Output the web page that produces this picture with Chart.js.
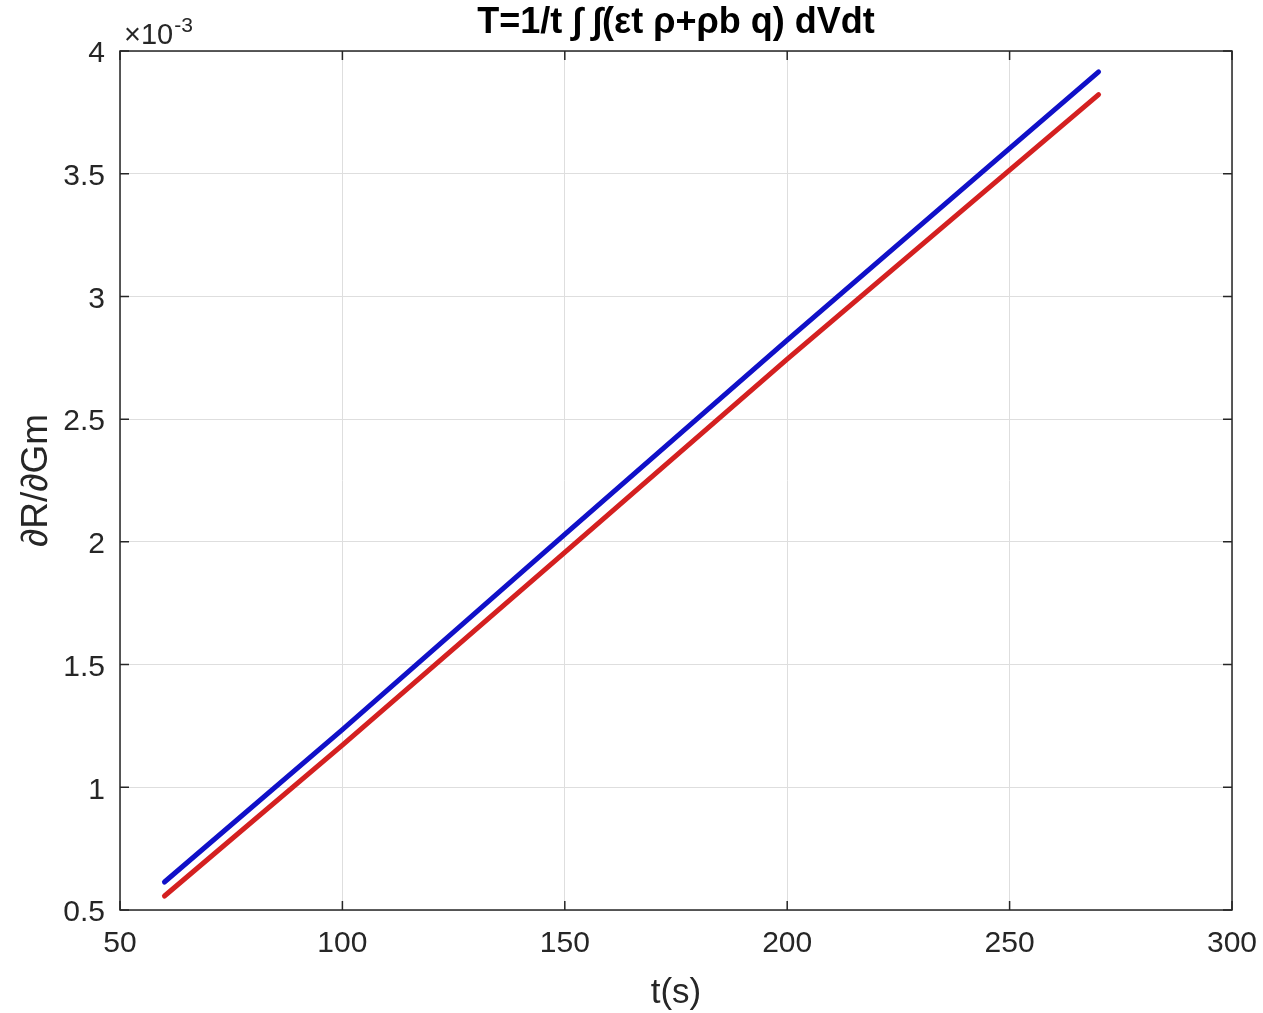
<!DOCTYPE html>
<html>
<head>
<meta charset="utf-8">
<script src="https://cdn.jsdelivr.net/npm/chart.js@4/dist/chart.umd.min.js"></script>
<style>
  html, body { margin: 0; padding: 0; background: #fff; }
  #wrap { width: 1263px; height: 1013px; }
</style>
</head>
<body>
<div id="wrap"><canvas id="c" width="1263" height="1013"></canvas></div>
<script>
// time axis (s)
const tValues = [60, 100, 150, 200, 250, 270];
// dR/dGm
const blueSeries = [0.000614, 0.001235, 0.002030, 0.002822, 0.003603, 0.003915];
const redSeries  = [0.000557, 0.001172, 0.001957, 0.002745, 0.003515, 0.003822];

const titleText = 'T=1/t \u222B \u222B(\u03B5t \u03C1+\u03C1b q) dVdt';
const xLabel = 't(s)';
const yLabel = '\u2202R/\u2202Gm';

const axisColor = '#262626';
const fontFamily = '"Liberation Sans", Arial, sans-serif';

function toPoints(xs, ys) {
  return xs.map((x, i) => ({ x: x, y: ys[i] }));
}

// box, inward ticks and texts drawn MATLAB-style
const matlabFrame = {
  id: 'matlabFrame',
  afterDraw(chart) {
    const ctx = chart.ctx;
    const a = chart.chartArea;
    const xs = chart.scales.x, ys = chart.scales.y;
    ctx.save();
    ctx.strokeStyle = axisColor;
    ctx.lineWidth = 1.5;
    ctx.strokeRect(a.left, a.top, a.right - a.left, a.bottom - a.top);
    ctx.beginPath();
    xs.ticks.forEach(t => {
      const px = xs.getPixelForValue(t.value);
      ctx.moveTo(px, a.bottom); ctx.lineTo(px, a.bottom - 9);
      ctx.moveTo(px, a.top); ctx.lineTo(px, a.top + 9);
    });
    ys.ticks.forEach(t => {
      const py = ys.getPixelForValue(t.value);
      ctx.moveTo(a.left, py); ctx.lineTo(a.left + 9, py);
      ctx.moveTo(a.right, py); ctx.lineTo(a.right - 9, py);
    });
    ctx.stroke();

    ctx.fillStyle = '#000';
    ctx.font = 'bold 36px ' + fontFamily;
    ctx.textAlign = 'center';
    ctx.textBaseline = 'middle';
    ctx.fillText(titleText, (a.left + a.right) / 2, 23);

    ctx.fillStyle = axisColor;
    ctx.font = '35px ' + fontFamily;
    ctx.fillText(xLabel, (a.left + a.right) / 2, 993);

    ctx.save();
    ctx.translate(37, (a.top + a.bottom) / 2);
    ctx.rotate(-Math.PI / 2);
    ctx.font = '37px ' + fontFamily;
    ctx.fillText(yLabel, 0, 0);
    ctx.restore();

    // exponent label
    ctx.textAlign = 'left';
    ctx.textBaseline = 'alphabetic';
    ctx.font = '29px ' + fontFamily;
    ctx.fillText('\u00D710', a.left + 4, 44);
    const w = ctx.measureText('\u00D710').width;
    ctx.font = '21px ' + fontFamily;
    ctx.fillText('-3', a.left + 5 + w, 32);
    ctx.restore();
  }
};

new Chart(document.getElementById('c'), {
  type: 'line',
  data: {
    datasets: [
      {
        data: toPoints(tValues, blueSeries),
        borderColor: '#1010c8',
        borderWidth: 5,
        pointRadius: 0,
        tension: 0,
        borderCapStyle: 'round'
      },
      {
        data: toPoints(tValues, redSeries),
        borderColor: '#d42020',
        borderWidth: 5,
        pointRadius: 0,
        tension: 0,
        borderCapStyle: 'round'
      }
    ]
  },
  options: {
    responsive: false,
    animation: false,
    layout: { padding: { top: 51, right: 31, left: 0, bottom: 0 } },
    plugins: { legend: { display: false }, title: { display: false }, tooltip: { enabled: false } },
    scales: {
      x: {
        type: 'linear',
        min: 50, max: 300,
        grid: { color: '#dedede', lineWidth: 1, drawTicks: false },
        border: { display: false },
        ticks: { stepSize: 50, color: axisColor, font: { size: 30, family: fontFamily }, padding: 16, maxRotation: 0 },
        afterFit(scale) {
          scale.height = 103;
          scale.paddingLeft = 0;
          scale.paddingRight = 0;
        }
      },
      y: {
        type: 'linear',
        min: 0.0005, max: 0.004,
        grid: { color: '#dedede', lineWidth: 1, drawTicks: false },
        border: { display: false },
        ticks: {
          stepSize: 0.0005,
          color: axisColor,
          font: { size: 30, family: fontFamily },
          padding: 15,
          labelOffset: 3,
          callback: v => String(Math.round(v * 1e4) / 10)
        },
        afterFit(scale) {
          scale.width = 120;
          scale.paddingTop = 0;
          scale.paddingBottom = 0;
        }
      }
    }
  },
  plugins: [matlabFrame]
});
</script>
</body>
</html>
